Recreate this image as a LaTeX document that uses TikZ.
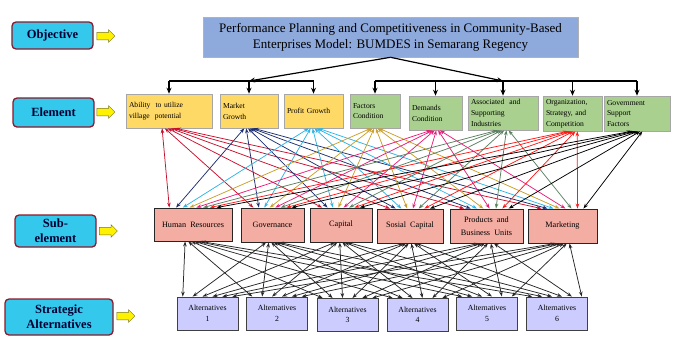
\documentclass[tikz,border=0pt]{standalone}
\usepackage{fontspec}
\setmainfont{Liberation Serif}
\usetikzlibrary{arrows.meta,shapes.arrows,calc}
\definecolor{lblfill}{HTML}{33C8EC}
\definecolor{lblborder}{HTML}{8B1A2B}
\definecolor{titlefill}{HTML}{8EA9DB}
\definecolor{yelfill}{HTML}{FFD966}
\definecolor{grnfill}{HTML}{A9D08E}
\definecolor{subfill}{HTML}{F4ADA2}
\definecolor{altfill}{HTML}{CCCCFF}
\definecolor{cA}{HTML}{C8102E}
\definecolor{cB}{HTML}{1F2F6F}
\definecolor{cC}{HTML}{2EB4E6}
\definecolor{cD}{HTML}{C8A02A}
\definecolor{cE}{HTML}{E8207A}
\definecolor{cF}{HTML}{5A8060}
\definecolor{cG}{HTML}{FF1A1A}
\definecolor{cH}{HTML}{000000}
\begin{document}
\begin{tikzpicture}[x=1pt,y=-1pt,
  lbl/.style={draw=lblborder, line width=1.3pt, fill=lblfill, rounded corners=4pt,
    font=\bfseries\fontsize{12.5}{15}\selectfont, align=center, inner sep=1pt, text=black!80!blue},
  yarrow/.style={single arrow, draw=olive!80!black, fill=yellow, minimum height=18pt,
    inner sep=3.5pt, single arrow head extend=2.5pt, line width=0.5pt},
  titlebox/.style={draw=gray!60, fill=titlefill, line width=0.6pt, align=center,
    font=\fontsize{13}{16}\selectfont, minimum width=375pt, minimum height=40pt},
  elem/.style={draw=gray!70, line width=0.6pt, minimum height=34pt,
    font=\fontsize{7.6}{10.8}\selectfont, align=left, inner sep=3pt},
  elemY/.style={elem, fill=yelfill},
  elemG/.style={elem, fill=grnfill},
  subbox/.style={draw=black!85, line width=0.9pt, fill=subfill, minimum height=34pt,
    font=\fontsize{8.2}{13}\selectfont, align=center, inner sep=1pt},
  altbox/.style={draw=black!75, line width=0.9pt, fill=altfill, minimum height=33pt,
    minimum width=61pt, font=\fontsize{7.8}{10.5}\selectfont, align=center, inner sep=1pt},
  bigarrow/.style={line width=1.2pt, -{Stealth[length=6pt,width=5pt]}},
  bracket/.style={line width=1.2pt},
  biarrow/.style={line width=0.75pt, {Stealth[length=5pt,width=3.6pt]}-{Stealth[length=5pt,width=3.6pt]}}
]
\useasboundingbox (0,0) rectangle (680,346);

% left labels
\node[lbl, minimum width=81pt, minimum height=27pt] (L1) at (52.5,35.5) {Objective};
\node[lbl, minimum width=81pt, minimum height=29pt] (L2) at (53.5,112.5) {Element};
\node[lbl, minimum width=81pt, minimum height=32pt] (L3) at (55.5,231) {Sub-\\element};
\node[lbl, minimum width=108pt, minimum height=36pt] (L4) at (59,317) {Strategic\\Alternatives};
\node[yarrow] (Y1) at (104,36) {};
\node[yarrow] (Y2) at (104,112) {};
\node[yarrow] (Y3) at (106.5,231) {};
\node[yarrow] (Y4) at (124,316) {};

% title
\node[titlebox] (T) at (390.5,37) {Performance Planning and Competitiveness in Community-Based\\Enterprises Model: BUMDES in Semarang Regency};

% elements
\node[elemY, text width=80pt] (e1) at (169,111) {Ability\ \ to utilize\\village\ \ potential};
\node[elemY, text width=52pt] (e2) at (249,111) {Market\\Growth};
\node[elemY, text width=53pt] (e3) at (313.5,111) {Profit\ Growth};
\node[elemG, text width=44pt] (e4) at (375,111) {Factors\\Condition};
\node[elemG, text width=47pt] (e5) at (435.5,113) {Demands\\Condition};
\node[elemG, text width=64pt] (e6) at (503,113) {Associated\ \ and\\Supporting\\Industries};
\node[elemG, text width=53pt, minimum height=35pt] (e7) at (572.5,113.5) {Organization,\\Strategy,\ and\\Competition};
\node[elemG, text width=60pt, minimum height=35pt] (e8) at (637,113.5) {Government\\Support\\Factors};

% sub-elements
\node[subbox, minimum width=78pt, minimum height=33pt] (s1) at (193,224.5) {Human\ \ Resources};
\node[subbox, minimum width=63pt] (s2) at (272.5,225) {Governance};
\node[subbox, minimum width=62pt] (s3) at (341,225) {Capital};
\node[subbox, minimum width=66pt] (s4) at (410,226) {Sosial\ \ Capital};
\node[subbox, minimum width=73pt] (s5) at (486.5,226) {Products\ \ and\\Business\ \ Units};
\node[subbox, minimum width=69pt] (s6) at (562.5,226) {Marketing};

% alternatives
\node[altbox] (a1) at (207.5,313.5) {Alternatives\\1};
\node[altbox] (a2) at (277,313.5) {Alternatives\\2};
\node[altbox] (a3) at (347.5,315) {Alternatives\\3};
\node[altbox] (a4) at (417.5,315) {Alternatives\\4};
\node[altbox] (a5) at (487,313.5) {Alternatives\\5};
\node[altbox] (a6) at (557,313.5) {Alternatives\\6};

% title to bracket
\coordinate (brk) at (0,81);
\draw[bigarrow] (T.south) -- (e2.north |- brk);
\draw[bigarrow] (T.south) -- (e6.north |- brk);
\draw[bracket] (e1.north |- brk) -- (e3.north |- brk);
\draw[bracket] (e4.north |- brk) -- (e8.north |- brk);
\foreach \i in {1,...,8}
  \draw[bigarrow] (e\i.north |- brk) -- (e\i.north);

% element <-> sub-element
\foreach \i/\c in {1/cA,2/cB,3/cC,4/cD,5/cE,6/cF,7/cG,8/cH}
  \foreach \j in {1,...,6}
    \draw[biarrow, draw=\c]
      ($(e\i.south west)!{0.42+0.16*(\j-1)/5}!(e\i.south east)$) --
      ($(s\j.north west)!{0.2+0.6*(\i-1)/7}!(s\j.north east)$);

% sub-element <-> alternatives
\foreach \j in {1,...,6}
  \foreach \k in {1,...,6}
    \draw[biarrow, draw=black!85]
      ($(s\j.south west)!{0.4+0.2*(\k-1)/5}!(s\j.south east)$) --
      ($(a\k.north west)!{0.1+0.8*(\j-1)/5}!(a\k.north east)$);
\end{tikzpicture}
\end{document}
